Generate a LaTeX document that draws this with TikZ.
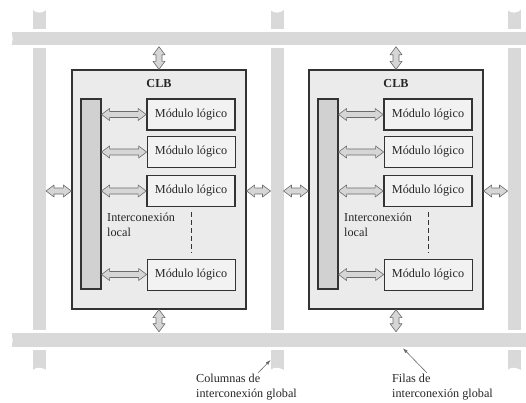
\documentclass[tikz,border=0pt]{standalone}
\usepackage{fontspec}
\setmainfont{Liberation Serif}
\usepackage{tikz}
\usetikzlibrary{arrows.meta}
\usetikzlibrary{positioning}
\usetikzlibrary{calc}

\definecolor{globgray}{gray}{0.85}
\definecolor{clbgray}{gray}{0.92}
\definecolor{modgray}{gray}{0.95}
\definecolor{localgray}{gray}{0.82}
\definecolor{linegray}{gray}{0.2}
\definecolor{arrline}{gray}{0.42}
\definecolor{arrfill}{gray}{0.84}
\definecolor{textgray}{gray}{0.15}

\begin{document}
\begin{tikzpicture}[x=1pt, y=-1pt, on grid, font=\fontsize{12.2}{15}\selectfont,
    globcol/.style={fill=globgray, minimum width=13pt, minimum height=360pt, inner sep=0pt, outer sep=0pt},
    globrow/.style={fill=globgray, draw=white, line width=3pt, minimum width=522pt, minimum height=16.5pt, inner sep=0pt, outer sep=0pt},
    clb/.style={draw=linegray, fill=clbgray, line width=1.3pt, minimum width=174pt, minimum height=239pt},
    localbar/.style={draw=linegray, fill=localgray, line width=1.1pt, minimum width=20pt, minimum height=190pt, inner sep=0pt},
    modul/.style={draw=linegray, fill=modgray, line width=0.8pt, minimum width=88pt, minimum height=31pt, inner sep=0pt, text=textgray},
    strong/.style={line width=1.8pt},
    lbltext/.style={align=left, inner sep=0pt, text=textgray},
    notearrow/.style={draw=arrline, line width=0.6pt, -{Latex[length=5pt,width=3.5pt]}},
    dblarrow/.style={draw=arrline, fill=arrfill, line width=0.6pt, line join=round,
      to path={
        -- ($(\tikztostart)!8pt!(\tikztotarget)!6pt!90:(\tikztotarget)$)
        -- ($(\tikztostart)!8pt!(\tikztotarget)!3pt!90:(\tikztotarget)$)
        -- ($(\tikztotarget)!8pt!(\tikztostart)!3pt!-90:(\tikztostart)$)
        -- ($(\tikztotarget)!8pt!(\tikztostart)!6pt!-90:(\tikztostart)$)
        -- (\tikztotarget)
        -- ($(\tikztotarget)!8pt!(\tikztostart)!6pt!90:(\tikztostart)$)
        -- ($(\tikztotarget)!8pt!(\tikztostart)!3pt!90:(\tikztostart)$)
        -- ($(\tikztostart)!8pt!(\tikztotarget)!3pt!-90:(\tikztotarget)$)
        -- ($(\tikztostart)!8pt!(\tikztotarget)!6pt!-90:(\tikztotarget)$)
        -- cycle}}]

    \useasboundingbox (0,0) rectangle (526,403);

    % global columns and rows
    \node[globcol] (col1) at (39.5,190) {};
    \node[globcol] (col2) at (277,190)  {};
    \node[globcol] (col3) at (514,190)  {};
    \foreach \c in {col1,col2,col3} {
      \fill[white] (\c.north west) .. controls +(4,4) and +(-3,3) .. (\c.north east) -- cycle;
      \fill[white] (\c.south west) .. controls +(4,-4) and +(-3,-2) .. (\c.south east) -- cycle;
    }
    \node[globrow] (row1) at (271,38.5) {};
    \node[globrow] (row2) at (271,340)  {};
    \foreach \r in {row1,row2}
      \fill[white] ([xshift=-1pt]\r.north west) .. controls +(5,5) and +(5,-4) .. ([xshift=-1pt]\r.south west) -- cycle;

    % left CLB
    \node[clb]           (clb1) at (159,189.5)                   {};
    \node[font=\fontsize{12.2}{15}\selectfont\bfseries, text=textgray] (clbl1) [above=105.5pt of clb1] {CLB};
    \node[localbar]      (lb1)  [below left=4.5pt and 68pt of clb1]  {};
    \node[modul, strong] (m11)  [above right=75pt and 32pt of clb1]  {Módulo lógico};
    \node[modul]         (m12)  [below=37.5pt of m11]                {Módulo lógico};
    \node[modul, strong] (m13)  [below=39pt of m12]                  {Módulo lógico};
    \node[modul]         (m14)  [below=83.5pt of m13]                {Módulo lógico};
    \node[lbltext, anchor=west] (il1) at (107,224.5) {Interconexión\\local};

    % right CLB
    \node[clb]           (clb2)  [right=237pt of clb1]               {};
    \node[font=\fontsize{12.2}{15}\selectfont\bfseries, text=textgray] (clbl2) [above=105.5pt of clb2] {CLB};
    \node[localbar]      (lb2)  [below left=4.5pt and 68pt of clb2]  {};
    \node[modul, strong] (m21)  [above right=75pt and 32pt of clb2]  {Módulo lógico};
    \node[modul]         (m22)  [below=37.5pt of m21]                {Módulo lógico};
    \node[modul, strong] (m23)  [below=39pt of m22]                  {Módulo lógico};
    \node[modul]         (m24)  [below=83.5pt of m23]                {Módulo lógico};
    \node[lbltext, anchor=west] (il2) at (344,224.5) {Interconexión\\local};

    \draw[linegray, line width=0.8pt, dash pattern=on 5pt off 3pt]
      ([yshift=-5pt]m13.south) -- ([yshift=6pt]m14.north);
    \draw[linegray, line width=0.8pt, dash pattern=on 5pt off 3pt]
      ([yshift=-5pt]m23.south) -- ([yshift=6pt]m24.north);

    % double arrows
    \path
      (lb1.east |- m11.west) edge[dblarrow] (m11.west)
      (lb1.east |- m12.west) edge[dblarrow] (m12.west)
      (lb1.east |- m13.west) edge[dblarrow] (m13.west)
      (lb1.east |- m14.west) edge[dblarrow] (m14.west)
      (lb2.east |- m21.west) edge[dblarrow] (m21.west)
      (lb2.east |- m22.west) edge[dblarrow] (m22.west)
      (lb2.east |- m23.west) edge[dblarrow] (m23.west)
      (lb2.east |- m24.west) edge[dblarrow] (m24.west)

      (col1.east |- m13)     edge[dblarrow] (clb1.west |- m13)
      (clb1.east |- m13)     edge[dblarrow] (col2.west |- m13)
      (col2.east |- m23)     edge[dblarrow] (clb2.west |- m23)
      (clb2.east |- m23)     edge[dblarrow] (col3.west |- m23)

      (row1.south -| clb1)   edge[dblarrow] (clb1.north)
      (clb1.south)           edge[dblarrow] (row2.north -| clb1)
      (row1.south -| clb2)   edge[dblarrow] (clb2.north)
      (clb2.south)           edge[dblarrow] (row2.north -| clb2);

    % notes
    \node[lbltext, anchor=west] (colnote) at (196,387.5) {Columnas de\\interconexión global};
    \node[lbltext, anchor=west] (rownote) at (392,387.5) {Filas de\\interconexión global};
    \coordinate (coltail) at (258,373);
    \coordinate (rowtail) at (427,373);
    \draw[notearrow] (coltail) -- ($(col2.south west)+(0,-10)$);
    \draw[notearrow] (rowtail) -- (403,0 |- row2.south);

\end{tikzpicture}
\end{document}
